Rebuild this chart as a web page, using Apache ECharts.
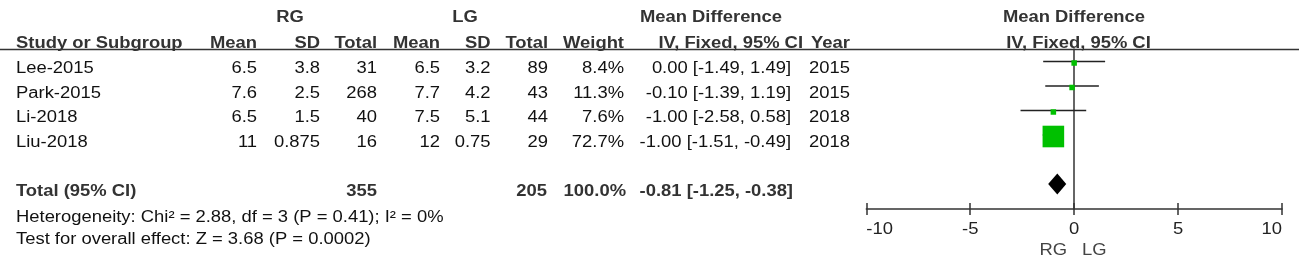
<!DOCTYPE html>
<html>
<head>
<meta charset="utf-8">
<script src="https://cdn.jsdelivr.net/npm/echarts@6/dist/echarts.min.js"></script>
<style>
  html, body { margin: 0; padding: 0; background: #fff; }
  #main { width: 1299px; height: 271px; }
</style>
</head>
<body>
<div id="main"></div>
<script>
// study rows
var studies = ['Lee-2015', 'Park-2015', 'Li-2018', 'Liu-2018'];
var rgMean = [6.5, 7.6, 6.5, 11];
var rgSD = [3.8, 2.5, 1.5, 0.875];
var rgTotal = [31, 268, 40, 16];
var lgMean = [6.5, 7.7, 7.5, 12];
var lgSD = [3.2, 4.2, 5.1, 0.75];
var lgTotal = [89, 43, 44, 29];
var weight = [8.4, 11.3, 7.6, 72.7];
var md = [0.00, -0.10, -1.00, -1.00];
var mdLow = [-1.49, -1.39, -2.58, -1.51];
var mdHigh = [1.49, 1.19, 0.58, -0.49];
var years = [2015, 2015, 2018, 2018];

// pooled result
var totalRG = 355;
var totalLG = 205;
var totalWeight = 100.0;
var totalMD = -0.81;
var totalLow = -1.25;
var totalHigh = -0.38;
var heterogeneity = 'Heterogeneity: Chi² = 2.88, df = 3 (P = 0.41); I² = 0%';
var overallTest = 'Test for overall effect: Z = 3.68 (P = 0.0002)';

// axis
var xTicks = [-10, -5, 0, 5, 10];

// ---- layout ----
var FONT = 'Arial, "Liberation Sans", sans-serif';
var TEXT_SCALE = 1.15; // picture is a bit stretched horizontally
var HEAD = '#333';
var BODY = '#111';
var TOTAL_ROW = 5;
// forest grid rows: row k sits at 61.5 + 24.5k px
var F_MIN = -0.51, F_MAX = 6.02;
// table rows: row k text centre at 69 + 24.5k px
var T_MIN = -2.8163, T_MAX = 8.2449;
var ROW_GROUP = -2.086, ROW_HEAD = -1.053;

function fmt2(v) { return v.toFixed(2); }
function ciText(m, lo, hi) { return fmt2(m) + ' [' + fmt2(lo) + ', ' + fmt2(hi) + ']'; }

var cells = [];
function cell(x, row, text, align, bold, color) {
  cells.push({ x: x, row: row, text: String(text), align: align, bold: !!bold,
    color: color || (bold ? HEAD : BODY) });
}

// headers
cell(290, ROW_GROUP, 'RG', 'center', true);
cell(465, ROW_GROUP, 'LG', 'center', true);
cell(711, ROW_GROUP, 'Mean Difference', 'center', true);
cell(1074, ROW_GROUP, 'Mean Difference', 'center', true);
cell(16, ROW_HEAD, 'Study or Subgroup', 'left', true);
cell(257, ROW_HEAD, 'Mean', 'right', true);
cell(320, ROW_HEAD, 'SD', 'right', true);
cell(377, ROW_HEAD, 'Total', 'right', true);
cell(440, ROW_HEAD, 'Mean', 'right', true);
cell(490.5, ROW_HEAD, 'SD', 'right', true);
cell(548, ROW_HEAD, 'Total', 'right', true);
cell(624, ROW_HEAD, 'Weight', 'right', true);
cell(803, ROW_HEAD, 'IV, Fixed, 95% CI', 'right', true);
cell(850, ROW_HEAD, 'Year', 'right', true);
cell(1078.5, ROW_HEAD, 'IV, Fixed, 95% CI', 'center', true);

// study rows
studies.forEach(function (s, i) {
  cell(16, i, s, 'left');
  cell(257, i, rgMean[i], 'right');
  cell(320, i, rgSD[i], 'right');
  cell(377, i, rgTotal[i], 'right');
  cell(440, i, lgMean[i], 'right');
  cell(490.5, i, lgSD[i], 'right');
  cell(548, i, lgTotal[i], 'right');
  cell(624, i, weight[i].toFixed(1) + '%', 'right');
  cell(791, i, ciText(md[i], mdLow[i], mdHigh[i]), 'right');
  cell(850, i, years[i], 'right');
});

// total + footer
cell(16, TOTAL_ROW, 'Total (95% CI)', 'left', true);
cell(377, TOTAL_ROW, totalRG, 'right', true);
cell(547, TOTAL_ROW, totalLG, 'right', true);
cell(626, TOTAL_ROW, totalWeight.toFixed(1) + '%', 'right', true);
cell(793, TOTAL_ROW, ciText(totalMD, totalLow, totalHigh), 'right', true);
cell(16, 6.06, heterogeneity, 'left');
cell(16, 6.97, overallTest, 'left');
cell(1067, 7.43, 'RG', 'right', false, '#444');
cell(1082, 7.43, 'LG', 'left', false, '#444');

function textEl(x, y, text, align, bold, color) {
  return {
    type: 'text', x: x, y: y, scaleX: TEXT_SCALE,
    style: {
      text: text, x: 0, y: 0, align: align, verticalAlign: 'middle',
      font: (bold ? 'bold ' : '') + '16px ' + FONT, fill: color
    }
  };
}

var myChart = echarts.init(document.getElementById('main'));
myChart.setOption({
  animation: false,
  backgroundColor: '#fff',
  grid: [
    { left: 866.3, width: 415.7, top: 49, height: 160, outerBoundsMode: 'none' },
    { left: 866.3, width: 415.7, top: 49, height: 160, outerBoundsMode: 'none' },
    { left: 0, width: 1299, top: 0, height: 271, outerBoundsMode: 'none' }
  ],
  xAxis: [
    {
      gridIndex: 0, type: 'value', min: -10, max: 10, interval: 5, position: 'bottom',
      axisLine: { onZero: false, lineStyle: { color: '#333', width: 1.5 } },
      axisTick: { length: 6, lineStyle: { color: '#333', width: 1.5 } },
      axisLabel: { show: false },
      splitLine: { show: false }
    },
    {
      // upward half of the ticks
      gridIndex: 1, type: 'value', min: -10, max: 10, interval: 5, position: 'bottom',
      axisLine: { show: false, onZero: false },
      axisTick: { inside: true, length: 6, lineStyle: { color: '#333', width: 1.5 } },
      axisLabel: { show: false },
      splitLine: { show: false }
    },
    { gridIndex: 2, type: 'value', min: 0, max: 1299, show: false }
  ],
  yAxis: [
    {
      gridIndex: 0, type: 'value', inverse: true, min: F_MIN, max: F_MAX,
      axisLine: { show: true, onZero: true, lineStyle: { color: '#333', width: 1.5 } },
      axisTick: { show: false },
      axisLabel: { show: false },
      splitLine: { show: false }
    },
    { gridIndex: 1, type: 'value', min: 0, max: 1, show: false },
    { gridIndex: 2, type: 'value', inverse: true, min: T_MIN, max: T_MAX, show: false }
  ],
  graphic: [
    {
      type: 'line', silent: true,
      shape: { x1: 0, y1: 49.5, x2: 1299, y2: 49.5 },
      style: { stroke: '#333', lineWidth: 1.5 }
    }
  ],
  series: [
    {
      // study CIs and weighted squares
      type: 'custom', xAxisIndex: 0, yAxisIndex: 0, silent: true,
      data: studies.map(function (s, i) { return [mdLow[i], mdHigh[i], md[i], i, weight[i]]; }),
      renderItem: function (params, api) {
        var lo = api.coord([api.value(0), api.value(3)]);
        var hi = api.coord([api.value(1), api.value(3)]);
        var c = api.coord([api.value(2), api.value(3)]);
        var size = Math.max(5.5, 21.6 * api.value(4) / 72.7);
        return {
          type: 'group',
          children: [
            { type: 'line', shape: { x1: lo[0], y1: lo[1], x2: hi[0], y2: hi[1] },
              style: { stroke: '#222', lineWidth: 1.5 } },
            { type: 'rect', shape: { x: c[0] - size / 2, y: c[1] + 1.5 - size / 2, width: size, height: size },
              style: { fill: '#00c000' } }
          ]
        };
      }
    },
    {
      // pooled diamond
      type: 'custom', xAxisIndex: 0, yAxisIndex: 0, silent: true,
      data: [[totalLow, totalHigh, totalMD, TOTAL_ROW]],
      renderItem: function (params, api) {
        var lo = api.coord([api.value(0), api.value(3)]);
        var hi = api.coord([api.value(1), api.value(3)]);
        var c = api.coord([api.value(2), api.value(3)]);
        return {
          type: 'polygon',
          shape: { points: [[lo[0], c[1]], [c[0], c[1] - 10.5], [hi[0], c[1]], [c[0], c[1] + 10.5]] },
          style: { fill: '#000' }
        };
      }
    },
    {
      // axis tick labels
      type: 'custom', xAxisIndex: 0, yAxisIndex: 0, silent: true,
      data: xTicks.map(function (t) { return [t, F_MAX]; }),
      renderItem: function (params, api) {
        var p = api.coord([api.value(0), F_MAX]);
        var n = params.dataIndex;
        var align = n === 0 ? 'left' : (n === xTicks.length - 1 ? 'right' : 'center');
        return textEl(p[0], p[1] + 21, String(xTicks[n]), align, false, '#222');
      }
    },
    {
      // table text
      type: 'custom', xAxisIndex: 2, yAxisIndex: 2, silent: true,
      data: cells.map(function (c) { return [c.x, c.row]; }),
      renderItem: function (params, api) {
        var c = cells[params.dataIndex];
        var p = api.coord([api.value(0), api.value(1)]);
        return textEl(p[0], p[1], c.text, c.align, c.bold, c.color);
      }
    }
  ]
});
</script>
</body>
</html>
